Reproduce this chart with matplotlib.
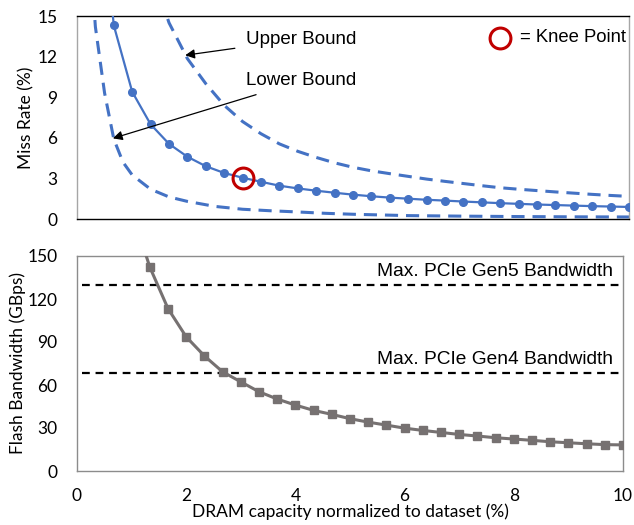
import matplotlib
matplotlib.use("Agg")
import matplotlib.pyplot as plt

# ---------------- data ----------------
cap = [0.333, 0.667, 1.0, 1.333, 1.667, 2.0, 2.333, 2.667, 3.0, 3.333, 3.667, 4.0,
       4.333, 4.667, 5.0, 5.333, 5.667, 6.0, 6.333, 6.667, 7.0, 7.333, 7.667, 8.0,
       8.333, 8.667, 9.0, 9.333, 9.667, 10.0]
miss_rate = [28.0, 14.3, 9.4, 7.0, 5.55, 4.6, 3.9, 3.4, 3.05, 2.75, 2.46, 2.26,
             2.09, 1.94, 1.8, 1.68, 1.58, 1.5, 1.42, 1.36, 1.29, 1.23, 1.17, 1.12,
             1.07, 1.03, 0.99, 0.95, 0.92, 0.89]

upper_x = [1.333, 1.667, 2.0, 2.333, 2.667, 3.0, 3.333, 3.667, 4.0, 4.333, 4.667,
           5.0, 5.333, 5.667, 6.0, 6.333, 6.667, 7.0, 7.333, 7.667, 8.0, 8.333,
           8.667, 9.0, 9.333, 9.667, 10.0]
upper_bound = [18.5, 14.5, 11.85, 10.0, 8.4, 7.2, 6.3, 5.55, 5.0, 4.55, 4.15,
               3.82, 3.56, 3.35, 3.15, 2.95, 2.78, 2.62, 2.46, 2.31, 2.2, 2.1,
               2.0, 1.91, 1.82, 1.74, 1.67]

lower_x = [0.25, 0.333, 0.5, 0.667, 0.833, 1.0, 1.333, 1.667, 2.0, 2.5, 3.0, 3.5,
           4.0, 4.5, 5.0, 6.0, 7.0, 8.0, 9.0, 10.0]
lower_bound = [19.0, 14.2, 9.3, 5.9, 4.2, 3.25, 2.2, 1.63, 1.3, 0.93, 0.72, 0.61,
               0.52, 0.42, 0.35, 0.25, 0.21, 0.18, 0.16, 0.15]

bw_x = [1.0, 1.333, 1.667, 2.0, 2.333, 2.667, 3.0, 3.333, 3.667, 4.0, 4.333, 4.667,
        5.0, 5.333, 5.667, 6.0, 6.333, 6.667, 7.0, 7.333, 7.667, 8.0, 8.333,
        8.667, 9.0, 9.333, 9.667, 10.0]
flash_bw = [182.0, 142.3, 113.3, 93.6, 80.3, 69.2, 62.2, 55.3, 50.2, 46.0, 42.3,
            39.5, 36.5, 34.1, 32.0, 29.9, 28.3, 26.9, 25.5, 24.4, 23.2, 22.3,
            21.4, 20.4, 19.7, 19.0, 18.4, 18.2]

knee_x, knee_y = 3.0, 3.05
gen5_bw = 130
gen4_bw = 68.5

blue = "#4472C4"
grey = "#767171"
red = "#C00000"
tick_font = "Lato"
text_font = "Liberation Sans"

fig = plt.figure(figsize=(6.34, 5.25), dpi=100)
W, H = 634, 525

def ax_rect(l, t, r, b):
    return [l / W, 1 - b / H, (r - l) / W, (b - t) / H]

# ---------------- top panel ----------------
ax1 = fig.add_axes(ax_rect(77, 16, 629, 219))
ax1.plot(cap, miss_rate, color=blue, lw=1.6, marker="o", ms=5.5, zorder=3,
         clip_on=True)
ax1.plot(upper_x, upper_bound, color=blue, lw=2.2, dashes=(4.3, 2.6))
ax1.plot(lower_x, lower_bound, color=blue, lw=2.2, dashes=(4.3, 2.6))
ax1.plot([knee_x], [knee_y], marker="o", ms=15, mfc="none", mec=red, mew=2.2,
         zorder=4)
ax1.set_xlim(0, 10)
ax1.set_ylim(0, 15)
ax1.set_yticks([0, 3, 6, 9, 12, 15])
ax1.set_xticks([])
ax1.tick_params(axis="y", length=0, pad=14, labelsize=12.5)
for lab in ax1.get_yticklabels():
    lab.set_fontfamily(tick_font)
ax1.set_ylabel("Miss Rate (%)", fontsize=12.5, fontfamily=tick_font, labelpad=2)
for s in ["left", "right"]:
    ax1.spines[s].set_color("#A6A6A6")
for s in ["top", "bottom"]:
    ax1.spines[s].set_color("black")
for s in ax1.spines.values():
    s.set_linewidth(1.0)

ax1.annotate("Upper Bound", xy=(1.96, 12.1), xytext=(3.06, 13.3),
             fontsize=13.5, fontfamily=text_font, va="center", ha="left",
             arrowprops=dict(arrowstyle="-|>", color="black", lw=0.9,
                             mutation_scale=14, shrinkA=6, shrinkB=0))
ax1.annotate("Lower Bound", xy=(0.65, 5.96), xytext=(3.06, 10.2),
             fontsize=13.5, fontfamily=text_font, va="center", ha="left",
             arrowprops=dict(arrowstyle="-|>", color="black", lw=0.9,
                             mutation_scale=14, shrinkA=6, shrinkB=0))
ax1.plot([7.66], [13.4], marker="o", ms=15, mfc="none", mec=red, mew=2.2,
         clip_on=False)
ax1.text(8.02, 13.4, "= Knee Point", fontsize=13.3, fontfamily=text_font,
         va="center", ha="left")

# ---------------- bottom panel ----------------
ax2 = fig.add_axes(ax_rect(77, 256, 623, 471))
ax2.plot(bw_x, flash_bw, color=grey, lw=2.2, marker="s", ms=6, zorder=3)
ax2.axhline(gen5_bw, xmin=0.01, xmax=1.0, color="black", lw=1.6, dashes=(3.5, 2.6))
ax2.axhline(gen4_bw, xmin=0.01, xmax=1.0, color="black", lw=1.6, dashes=(3.5, 2.6))
ax2.text(9.82, gen5_bw + 3.5, "Max. PCIe Gen5 Bandwidth", fontsize=13.8,
         fontfamily=text_font, ha="right", va="bottom")
ax2.text(9.82, gen4_bw + 3.5, "Max. PCIe Gen4 Bandwidth", fontsize=13.8,
         fontfamily=text_font, ha="right", va="bottom")
ax2.set_xlim(0, 10)
ax2.set_ylim(0, 150)
ax2.set_yticks([0, 30, 60, 90, 120, 150])
ax2.set_xticks([0, 2, 4, 6, 8, 10])
ax2.tick_params(length=0, labelsize=12.5)
ax2.tick_params(axis="y", pad=14)
ax2.tick_params(axis="x", pad=12)
for lab in ax2.get_yticklabels() + ax2.get_xticklabels():
    lab.set_fontfamily(tick_font)
ax2.set_ylabel("Flash Bandwidth (GBps)", fontsize=12.5, fontfamily=tick_font,
               labelpad=1)
ax2.set_xlabel("DRAM capacity normalized to dataset (%)", fontsize=12.5,
               fontfamily=tick_font, labelpad=0)
for s in ax2.spines.values():
    s.set_color("#8C8C8C")
    s.set_linewidth(1.0)

fig.savefig("out.png", dpi=100)
